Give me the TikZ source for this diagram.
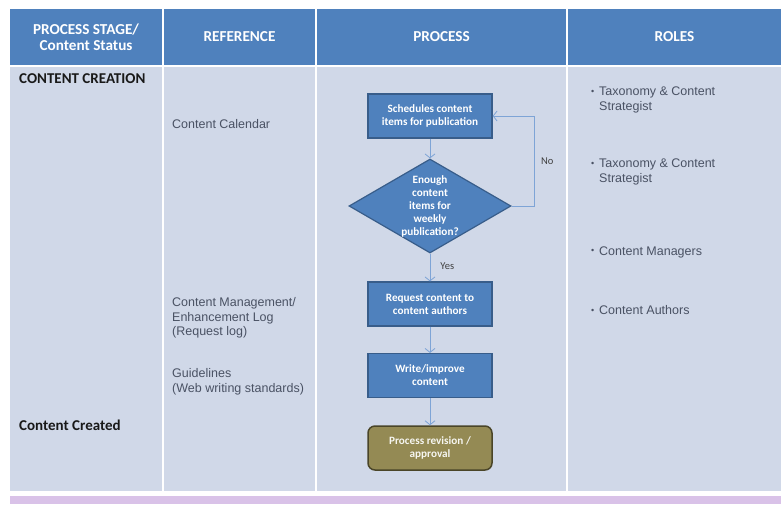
\documentclass[tikz,border=0pt]{standalone}
\usepackage{fontspec}
\setmainfont{Carlito}
\newfontfamily\arialf{Liberation Sans}
\usetikzlibrary{shapes.geometric,arrows.meta}
\definecolor{hdrblue}{HTML}{4F81BD}
\definecolor{bodybg}{HTML}{D0D8E8}
\definecolor{boxline}{HTML}{385D8A}
\definecolor{arrowc}{HTML}{7EA4D6}
\definecolor{olivef}{HTML}{948A54}
\definecolor{olivel}{HTML}{4A4528}
\definecolor{lav}{HTML}{D9C2E8}
\definecolor{reftext}{HTML}{4A5264}
\newcommand{\rolebullet}{\llap{\raisebox{1.2pt}{\fontsize{9}{9}\selectfont•}\hspace{5pt}}}
\begin{document}
\begin{tikzpicture}[x=1pt,y=-1pt,
  hdr/.style={font=\fontsize{15.2}{16.5}\selectfont\bfseries, text=white, align=center},
  stage/.style={font=\fontsize{15}{17}\selectfont\bfseries, text=black!90, anchor=west, inner sep=0},
  reft/.style={font=\arialf\fontsize{12.5}{14.5}\selectfont, text=reftext, anchor=west, align=left, inner sep=0},
  procbox/.style={draw=boxline, line width=1.2pt, fill=hdrblue, minimum width=124pt, minimum height=44pt,
     text=white, font=\fontsize{11.2}{13}\selectfont\bfseries, align=center, inner sep=0},
  endbox/.style={draw=olivel, line width=1.5pt, fill=olivef, rounded corners=7pt, minimum width=124pt, minimum height=44pt,
     text=white!92!olivef, font=\fontsize{11.2}{13}\selectfont\bfseries, align=center, inner sep=0},
  flowarrow/.style={draw=arrowc, line width=0.8pt, -{Straight Barb[length=4pt,width=10pt]}},
  smalllab/.style={font=\fontsize{10.5}{12}\selectfont, text=black!75, inner sep=0}
]
\useasboundingbox (0,0) rectangle (781,504);
\fill[white] (0,0) rectangle (781,504);
% header
\fill[hdrblue] (10,9) rectangle (162,65);
\fill[hdrblue] (164,9) rectangle (315,65);
\fill[hdrblue] (317,9) rectangle (566,65);
\fill[hdrblue] (568,9) rectangle (781,65);
% body
\fill[bodybg] (10,67) rectangle (162,491);
\fill[bodybg] (164,67) rectangle (315,491);
\fill[bodybg] (317,67) rectangle (566,491);
\fill[bodybg] (568,67) rectangle (781,491);
% bottom band
\fill[lav] (10,496) rectangle (781,504);

% header texts
\node[hdr] (h1) at (86,37) {PROCESS STAGE/\\Content Status};
\node[hdr] (h2) at (239.5,37) {REFERENCE};
\node[hdr] (h3) at (441.5,37) {PROCESS};
\node[hdr] (h4) at (674.5,37) {ROLES};

% stage column
\node[stage] (s1) at (19,79) {CONTENT CREATION};
\node[stage] (s2) at (19,425) {Content Created};

% reference column
\node[reft] (r1) at (172,124) {Content Calendar};
\node[reft] (r2) at (172,318) {Content Management/\\Enhancement Log\\(Request log)};
\node[reft] (r3) at (172,382) {Guidelines\\(Web writing standards)};

% roles column
\node[reft] (o1) at (599,100) {\rolebullet Taxonomy \& Content\\Strategist};
\node[reft] (o2) at (599,172) {\rolebullet Taxonomy \& Content\\Strategist};
\node[reft] (o3) at (599,252) {\rolebullet Content Managers};
\node[reft] (o4) at (599,310) {\rolebullet Content Authors};

% process flow
\node[procbox] (sched) at (430,116) {Schedules content\\items for publication};
\node[diamond, draw=boxline, line width=1.2pt, fill=hdrblue, minimum width=162pt, minimum height=94pt, inner sep=0,
  label={[text=white, font=\fontsize{11.2}{13}\selectfont\bfseries, align=center]center:Enough\\content\\items for\\weekly\\publication?}] (dia) at (430,206) {};
\node[procbox] (req) at (430,304) {Request content to\\content authors};
\node[procbox] (write) at (430,375.5) {Write/improve\\content};
\node[endbox] (rev) at (430,448) {Process revision /\\approval};

\draw[flowarrow] (sched) -- (dia);
\draw[flowarrow] (dia) -- node[smalllab, right, pos=0.45, xshift=10pt] {Yes} (req);
\draw[flowarrow] (req) -- (write);
\draw[flowarrow] (write) -- (rev);
\draw[flowarrow] (dia.east) -- ++(23,0) |- node[smalllab, pos=0.25, right, xshift=6pt] {No} (sched.east);
\end{tikzpicture}
\end{document}
